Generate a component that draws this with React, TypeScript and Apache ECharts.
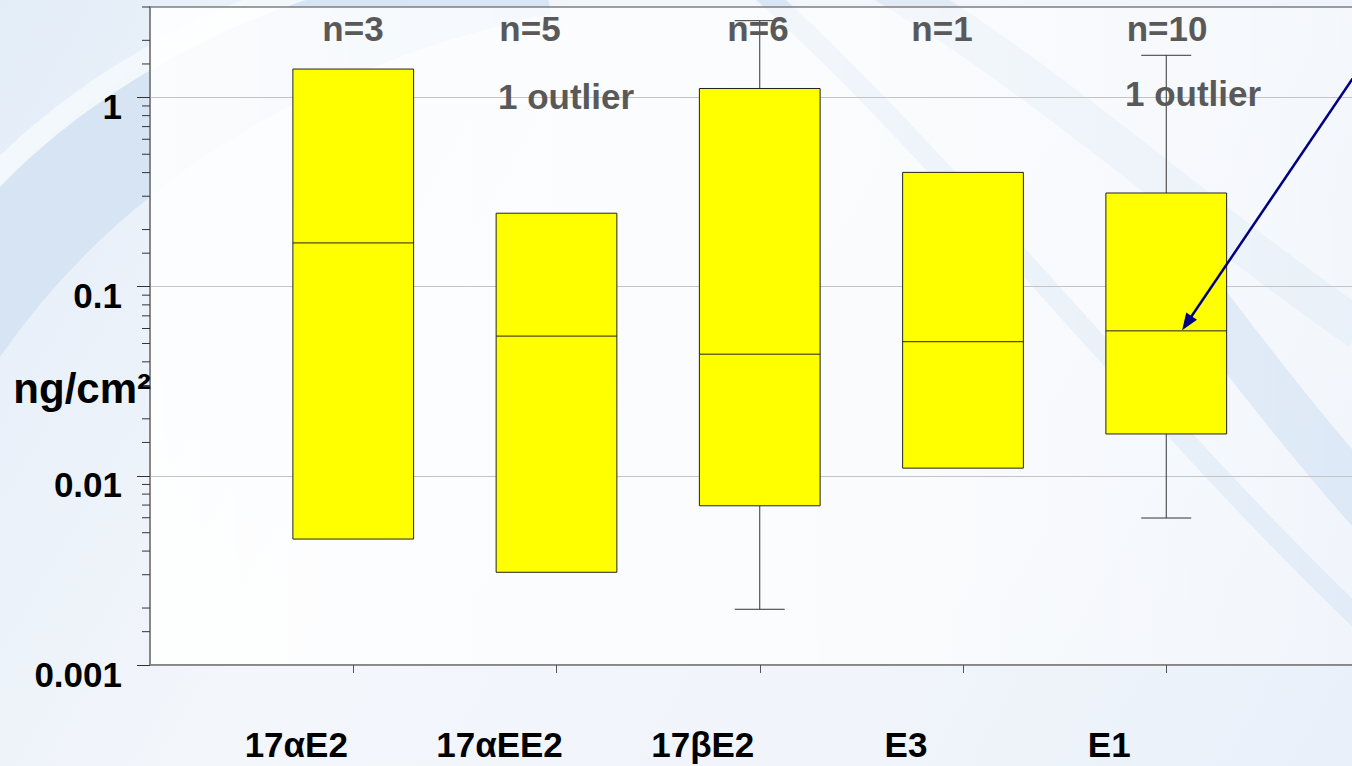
import React, { useEffect, useRef } from 'react';
import * as echarts from 'echarts';

// ---- data ----
const categories = ['17αE2', '17αEE2', '17βE2', 'E3', 'E1'];
const whiskerLow = [0.00463, 0.00309, 0.00197, 0.01097, 0.00598];
const quartile1 = [0.00463, 0.00309, 0.00694, 0.01097, 0.01663];
const medians = [0.17, 0.0547, 0.0439, 0.0511, 0.0583];
const quartile3 = [1.41, 0.244, 1.113, 0.401, 0.312];
const whiskerHigh = [1.41, 0.244, 2.54, 0.401, 1.667];
const sampleSizes = ['n=3', 'n=5', 'n=6', 'n=1', 'n=10'];
const outlierNote = '1 outlier';
const yTickValues = [0.001, 0.01, 0.1, 1];
const yTickLabels = ['0.001', '0.01', '0.1', '1'];
const yMinorTicks = [
  0.0015, 0.002, 0.003, 0.004, 0.005, 0.006, 0.007, 0.008, 0.009,
  0.015, 0.02, 0.03, 0.04, 0.05, 0.06, 0.07, 0.08, 0.09,
  0.15, 0.2, 0.3, 0.4, 0.5, 0.6, 0.7, 0.8, 0.9,
  1.5, 2, 3,
];
const yAxisTitle = 'ng/cm²';
// arrow annotation (data coordinates: x position on category scale, y value)
const arrowFrom = [6.0, 1.7];
const arrowTo = [5.078, 0.0588];

const FONT = '"Liberation Sans", Arial, Helvetica, sans-serif';

export default function App() {
  const ref = useRef<HTMLDivElement>(null);

  useEffect(() => {
    if (!ref.current) return;
    const chart = echarts.init(ref.current, undefined, { renderer: 'svg' });

    const boxData = categories.map((_, i) => [
      i + 1,
      whiskerLow[i],
      quartile1[i],
      medians[i],
      quartile3[i],
      whiskerHigh[i],
    ]);

    const option: any = {
      animation: false,
      backgroundColor: 'transparent',
      grid: {
        left: 150,
        top: 7,
        width: 1219.5,
        height: 658,
        containLabel: false,
        outerBoundsMode: 'none',
        show: true,
        borderColor: '#7f7f7f',
        borderWidth: 1.5,
        backgroundColor: {
          type: 'linear',
          x: 0,
          y: 0,
          x2: 1,
          y2: 0,
          colorStops: [
            { offset: 0, color: 'rgba(255,255,255,0.88)' },
            { offset: 0.55, color: 'rgba(255,255,255,0.65)' },
            { offset: 1, color: 'rgba(255,255,255,0.3)' },
          ],
        },
      },
      xAxis: {
        type: 'value',
        min: 0,
        max: 6,
        interval: 1,
        axisLine: { show: true, lineStyle: { color: '#7f7f7f', width: 1.5 } },
        axisTick: {
          show: true,
          length: 8,
          customValues: [1, 2, 3, 4, 5],
          lineStyle: { color: '#555555' },
        },
        axisLabel: {
          customValues: [1, 2, 3, 4, 5],
          formatter: (v: number) => categories[Math.round(v) - 1] ?? '',
          fontFamily: FONT,
          fontWeight: 'bold',
          fontSize: 35,
          color: '#000000',
          margin: 62,
          padding: [0, 114, 0, 0],
        },
        splitLine: { show: false },
      },
      yAxis: {
        type: 'log',
        logBase: 10,
        min: 0.001,
        max: 3,
        axisLine: { show: true, lineStyle: { color: '#7f7f7f', width: 1.5 } },
        axisTick: {
          show: true,
          length: 13,
          customValues: yTickValues,
          lineStyle: { color: '#333333' },
        },
        axisLabel: {
          customValues: yTickValues,
          formatter: (v: number) => {
            const idx = yTickValues.findIndex(
              (t) => Math.abs(Math.log10(t) - Math.log10(v)) < 0.01
            );
            return idx >= 0 ? yTickLabels[idx] : '';
          },
          fontFamily: FONT,
          fontWeight: 'bold',
          fontSize: 35,
          color: '#000000',
          margin: 28,
          verticalAlign: 'top',
          lineHeight: 18,
        },
        splitLine: { show: true, lineStyle: { color: '#c4c4c4', width: 1 } },
      },
      graphic: [
        // background swooshes
        {
          type: 'group',
          z: -10,
          silent: true,
          children: [
            {
              type: 'bezierCurve',
              z: -10,
              shape: { x1: -80, y1: 380, x2: 540, y2: -40, cpx1: 60, cpy1: 140, cpx2: 300, cpy2: 10 },
              style: { stroke: '#d2e2f3', lineWidth: 110, fill: 'none', opacity: 0.85 },
            },
            {
              type: 'bezierCurve',
              z: -10,
              shape: { x1: -60, y1: 240, x2: 420, y2: -40, cpx1: 60, cpy1: 80, cpx2: 250, cpy2: -10 },
              style: { stroke: '#f4f8fc', lineWidth: 22, fill: 'none', opacity: 0.9 },
            },
            {
              type: 'bezierCurve',
              z: -10,
              shape: { x1: 760, y1: -10, x2: 1360, y2: 620, cpx1: 950, cpy1: 160, cpx2: 1150, cpy2: 420 },
              style: { stroke: '#c6daf0', lineWidth: 20, fill: 'none', opacity: 0.6 },
            },
            {
              type: 'bezierCurve',
              z: -10,
              shape: { x1: 880, y1: -20, x2: 1360, y2: 330, cpx1: 1050, cpy1: 80, cpx2: 1200, cpy2: 220 },
              style: { stroke: '#d5e4f4', lineWidth: 40, fill: 'none', opacity: 0.6 },
            },
            {
              type: 'bezierCurve',
              z: -10,
              shape: { x1: 1150, y1: 230, x2: 1380, y2: 520, cpx1: 1230, cpy1: 340, cpx2: 1300, cpy2: 430 },
              style: { stroke: '#c3d8ef', lineWidth: 50, fill: 'none', opacity: 0.75 },
            },
          ],
        },
        // sample sizes and notes
        ...[353, 530, 758, 942, 1167].map((x, i) => ({
          type: 'text',
          z: 100,
          x,
          y: 28,
          style: {
            text: sampleSizes[i],
            fontFamily: FONT,
            fontWeight: 'bold',
            fontSize: 35,
            fill: '#595959',
            align: 'center',
            verticalAlign: 'middle',
          },
        })),
        ...[
          [498, 96],
          [1125, 93],
        ].map(([x, y]) => ({
          type: 'text',
          z: 100,
          x,
          y,
          style: {
            text: outlierNote,
            fontFamily: FONT,
            fontWeight: 'bold',
            fontSize: 35,
            fill: '#595959',
            align: 'left',
            verticalAlign: 'middle',
          },
        })),
        {
          type: 'text',
          z: 100,
          x: 151,
          y: 388,
          style: {
            text: yAxisTitle,
            fontFamily: FONT,
            fontWeight: 'bold',
            fontSize: 42,
            fill: '#000000',
            align: 'right',
            verticalAlign: 'middle',
          },
        },
      ],
      series: [
        {
          type: 'custom',
          name: 'boxes',
          clip: false,
          z: 5,
          data: boxData,
          renderItem: (params: any, api: any) => {
            const x = api.value(0);
            const lo = api.coord([x, api.value(1)]);
            const b = api.coord([x, api.value(2)]);
            const m = api.coord([x, api.value(3)]);
            const t = api.coord([x, api.value(4)]);
            const hi = api.coord([x, api.value(5)]);
            const cx = b[0];
            const halfBox = api.coord([x + 0.297, 1])[0] - cx;
            const halfCap = api.coord([x + 0.123, 1])[0] - cx;
            const children: any[] = [];
            const wStyle = { stroke: '#333333', lineWidth: 1 };
            if (hi[1] < t[1] - 0.5) {
              children.push({ type: 'line', shape: { x1: cx, y1: t[1], x2: cx, y2: hi[1] }, style: wStyle });
              children.push({ type: 'line', shape: { x1: cx - halfCap, y1: hi[1], x2: cx + halfCap, y2: hi[1] }, style: wStyle });
            }
            if (lo[1] > b[1] + 0.5) {
              children.push({ type: 'line', shape: { x1: cx, y1: b[1], x2: cx, y2: lo[1] }, style: wStyle });
              children.push({ type: 'line', shape: { x1: cx - halfCap, y1: lo[1], x2: cx + halfCap, y2: lo[1] }, style: wStyle });
            }
            children.push({
              type: 'rect',
              shape: { x: cx - halfBox, y: t[1], width: halfBox * 2, height: b[1] - t[1] },
              style: { fill: '#ffff00', stroke: '#222222', lineWidth: 1 },
            });
            children.push({
              type: 'line',
              shape: { x1: cx - halfBox, y1: m[1], x2: cx + halfBox, y2: m[1] },
              style: { stroke: '#222222', lineWidth: 1 },
            });
            return { type: 'group', children };
          },
        },
        {
          type: 'custom',
          name: 'minorTicks',
          clip: false,
          silent: true,
          data: yMinorTicks.map((v) => [0, v]),
          renderItem: (params: any, api: any) => {
            const p = api.coord([api.value(0), api.value(1)]);
            return {
              type: 'line',
              shape: { x1: p[0] - 8, y1: p[1], x2: p[0], y2: p[1] },
              style: { stroke: '#333333', lineWidth: 1 },
            };
          },
        },
        {
          type: 'custom',
          name: 'arrow',
          clip: false,
          silent: true,
          z: 20,
          data: [[arrowFrom[0], arrowFrom[1], arrowTo[0], arrowTo[1]]],
          renderItem: (params: any, api: any) => {
            const a = api.coord([api.value(0), api.value(1)]);
            const b = api.coord([api.value(2), api.value(3)]);
            const dx = b[0] - a[0];
            const dy = b[1] - a[1];
            const len = Math.sqrt(dx * dx + dy * dy);
            const ux = dx / len;
            const uy = dy / len;
            const headLen = 17;
            const headHalf = 6.5;
            const bx = b[0] - ux * headLen;
            const by = b[1] - uy * headLen;
            return {
              type: 'group',
              children: [
                {
                  type: 'line',
                  shape: { x1: a[0], y1: a[1], x2: bx + ux * 2, y2: by + uy * 2 },
                  style: { stroke: '#000080', lineWidth: 2.5 },
                },
                {
                  type: 'polygon',
                  shape: {
                    points: [
                      [b[0], b[1]],
                      [bx - uy * headHalf, by + ux * headHalf],
                      [bx + uy * headHalf, by - ux * headHalf],
                    ],
                  },
                  style: { fill: '#000080' },
                },
              ],
            };
          },
        },
      ],
    };

    chart.setOption(option);
    return () => chart.dispose();
  }, []);

  return (
    <div
      ref={ref}
      style={{
        position: 'fixed',
        left: 0,
        top: 0,
        width: 1352,
        height: 766,
        background:
          'linear-gradient(120deg, #e3edf8 0%, #f3f6fb 35%, #f1f5fb 70%, #e9f0f9 100%)',
      }}
    />
  );
}
